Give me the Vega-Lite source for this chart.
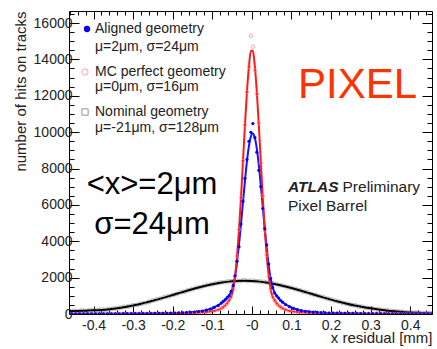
{
"$schema": "https://vega.github.io/schema/vega-lite/v6.json",
"width": 363, "height": 303,
"autosize": {"type": "none"},
"padding": {"left": 69, "top": 11, "right": 5, "bottom": 35},
"background": "white",
"datasets": {
"black_fit": [{"x":-0.46,"y":160},{"x":-0.44,"y":170},{"x":-0.42,"y":185},{"x":-0.40,"y":200},{"x":-0.38,"y":225},{"x":-0.36,"y":265},{"x":-0.34,"y":320},{"x":-0.32,"y":390},{"x":-0.30,"y":470},{"x":-0.28,"y":560},{"x":-0.26,"y":675},{"x":-0.24,"y":792},{"x":-0.22,"y":916},{"x":-0.20,"y":1045},{"x":-0.18,"y":1175},{"x":-0.16,"y":1304},{"x":-0.14,"y":1427},{"x":-0.12,"y":1539},{"x":-0.10,"y":1638},{"x":-0.08,"y":1719},{"x":-0.06,"y":1780},{"x":-0.04,"y":1817},{"x":-0.02,"y":1830},{"x":0,"y":1817},{"x":0.02,"y":1780},{"x":0.04,"y":1719},{"x":0.06,"y":1638},{"x":0.08,"y":1539},{"x":0.10,"y":1427},{"x":0.12,"y":1304},{"x":0.14,"y":1175},{"x":0.16,"y":1045},{"x":0.18,"y":916},{"x":0.20,"y":792},{"x":0.22,"y":675},{"x":0.24,"y":568},{"x":0.26,"y":472},{"x":0.28,"y":386},{"x":0.30,"y":311},{"x":0.32,"y":248},{"x":0.34,"y":194},{"x":0.36,"y":150},{"x":0.38,"y":115},{"x":0.40,"y":87},{"x":0.42,"y":64},{"x":0.44,"y":47},{"x":0.455,"y":38}],
"black_pts": [{"x":-0.45,"y":175},{"x":-0.44,"y":160},{"x":-0.43,"y":185},{"x":-0.42,"y":175},{"x":-0.41,"y":200},{"x":-0.40,"y":210},{"x":-0.39,"y":205},{"x":-0.38,"y":240},{"x":-0.37,"y":235},{"x":-0.36,"y":270},{"x":-0.35,"y":300},{"x":-0.34,"y":310},{"x":-0.33,"y":360},{"x":-0.32,"y":400},{"x":-0.31,"y":420},{"x":-0.30,"y":480},{"x":-0.29,"y":505},{"x":-0.28,"y":570},{"x":-0.27,"y":610},{"x":-0.26,"y":665},{"x":-0.25,"y":740},{"x":-0.24,"y":800},{"x":-0.23,"y":850},{"x":-0.22,"y":930},{"x":-0.21,"y":975},{"x":-0.20,"y":1050},{"x":-0.19,"y":1100},{"x":-0.18,"y":1190},{"x":-0.17,"y":1230},{"x":-0.16,"y":1310},{"x":-0.15,"y":1360},{"x":-0.14,"y":1440},{"x":-0.13,"y":1470},{"x":-0.12,"y":1550},{"x":-0.11,"y":1600},{"x":-0.10,"y":1630},{"x":-0.09,"y":1690},{"x":-0.08,"y":1730},{"x":-0.07,"y":1750},{"x":-0.06,"y":1790},{"x":-0.05,"y":1800},{"x":-0.04,"y":1830},{"x":-0.03,"y":1810},{"x":-0.02,"y":1850},{"x":-0.01,"y":1820},{"x":0,"y":1830},{"x":0.01,"y":1800},{"x":0.02,"y":1790},{"x":0.03,"y":1760},{"x":0.04,"y":1730},{"x":0.05,"y":1690},{"x":0.06,"y":1650},{"x":0.07,"y":1580},{"x":0.08,"y":1550},{"x":0.09,"y":1470},{"x":0.10,"y":1440},{"x":0.11,"y":1360},{"x":0.12,"y":1310},{"x":0.13,"y":1230},{"x":0.14,"y":1190},{"x":0.15,"y":1100},{"x":0.16,"y":1050},{"x":0.17,"y":980},{"x":0.18,"y":920},{"x":0.19,"y":850},{"x":0.20,"y":800},{"x":0.21,"y":730},{"x":0.22,"y":680},{"x":0.23,"y":610},{"x":0.24,"y":570},{"x":0.25,"y":510},{"x":0.26,"y":480},{"x":0.27,"y":420},{"x":0.28,"y":390},{"x":0.29,"y":340},{"x":0.30,"y":320},{"x":0.31,"y":275},{"x":0.32,"y":250},{"x":0.33,"y":215},{"x":0.34,"y":200},{"x":0.35,"y":170},{"x":0.36,"y":155},{"x":0.37,"y":130},{"x":0.38,"y":120},{"x":0.39,"y":100},{"x":0.40,"y":90},{"x":0.41,"y":75},{"x":0.42,"y":68},{"x":0.43,"y":55},{"x":0.44,"y":50},{"x":0.45,"y":42}],
"blue_fit": [{"x":-0.458,"y":8},{"x":-0.298,"y":20},{"x":-0.198,"y":50},{"x":-0.148,"y":110},{"x":-0.118,"y":200},{"x":-0.098,"y":340},{"x":-0.088,"y":440},{"x":-0.078,"y":580},{"x":-0.068,"y":760},{"x":-0.063,"y":880},{"x":-0.058,"y":1020},{"x":-0.053,"y":1200},{"x":-0.048,"y":1500},{"x":-0.043,"y":2000},{"x":-0.038,"y":2760},{"x":-0.033,"y":3720},{"x":-0.028,"y":4830},{"x":-0.023,"y":6020},{"x":-0.018,"y":7200},{"x":-0.013,"y":8290},{"x":-0.008,"y":9160},{"x":-0.003,"y":9720},{"x":0.002,"y":9920},{"x":0.007,"y":9720},{"x":0.012,"y":9160},{"x":0.017,"y":8290},{"x":0.022,"y":7200},{"x":0.027,"y":6020},{"x":0.032,"y":4830},{"x":0.037,"y":3720},{"x":0.042,"y":2760},{"x":0.047,"y":2000},{"x":0.052,"y":1500},{"x":0.057,"y":1200},{"x":0.062,"y":1020},{"x":0.067,"y":880},{"x":0.072,"y":760},{"x":0.082,"y":580},{"x":0.092,"y":440},{"x":0.102,"y":340},{"x":0.122,"y":200},{"x":0.152,"y":110},{"x":0.202,"y":50},{"x":0.302,"y":20},{"x":0.455,"y":8}],
"blue_pts": [{"x":-0.455,"y":8},{"x":-0.445,"y":9},{"x":-0.435,"y":7},{"x":-0.425,"y":10},{"x":-0.415,"y":9},{"x":-0.405,"y":11},{"x":-0.395,"y":10},{"x":-0.385,"y":12},{"x":-0.375,"y":11},{"x":-0.365,"y":13},{"x":-0.355,"y":14},{"x":-0.345,"y":13},{"x":-0.335,"y":16},{"x":-0.325,"y":17},{"x":-0.315,"y":18},{"x":-0.305,"y":19},{"x":-0.295,"y":21},{"x":-0.285,"y":22},{"x":-0.275,"y":25},{"x":-0.265,"y":26},{"x":-0.255,"y":29},{"x":-0.245,"y":31},{"x":-0.235,"y":35},{"x":-0.225,"y":38},{"x":-0.215,"y":42},{"x":-0.205,"y":47},{"x":-0.195,"y":52},{"x":-0.185,"y":60},{"x":-0.175,"y":68},{"x":-0.165,"y":80},{"x":-0.155,"y":95},{"x":-0.145,"y":112},{"x":-0.135,"y":135},{"x":-0.125,"y":165},{"x":-0.115,"y":210},{"x":-0.105,"y":270},{"x":-0.095,"y":360},{"x":-0.085,"y":470},{"x":-0.0775,"y":600},{"x":-0.0725,"y":700},{"x":-0.0675,"y":790},{"x":-0.0625,"y":900},{"x":-0.0575,"y":1010},{"x":-0.0525,"y":1250},{"x":-0.0475,"y":1560},{"x":-0.0425,"y":2100},{"x":-0.0375,"y":2900},{"x":-0.0325,"y":3700},{"x":-0.0275,"y":4950},{"x":-0.0225,"y":6200},{"x":-0.0175,"y":7450},{"x":-0.0125,"y":8500},{"x":-0.0075,"y":9500},{"x":-0.0025,"y":9990},{"x":0.0025,"y":10470},{"x":0.0075,"y":9700},{"x":0.0125,"y":8900},{"x":0.0175,"y":7900},{"x":0.0225,"y":7000},{"x":0.0275,"y":5800},{"x":0.0325,"y":4700},{"x":0.0375,"y":3800},{"x":0.0425,"y":2750},{"x":0.0475,"y":1950},{"x":0.0525,"y":1450},{"x":0.0575,"y":1150},{"x":0.0625,"y":1000},{"x":0.0675,"y":880},{"x":0.0725,"y":740},{"x":0.0775,"y":650},{"x":0.085,"y":520},{"x":0.095,"y":400},{"x":0.105,"y":310},{"x":0.115,"y":240},{"x":0.125,"y":185},{"x":0.135,"y":150},{"x":0.145,"y":120},{"x":0.155,"y":100},{"x":0.165,"y":85},{"x":0.175,"y":72},{"x":0.185,"y":63},{"x":0.195,"y":55},{"x":0.205,"y":49},{"x":0.215,"y":44},{"x":0.225,"y":40},{"x":0.235,"y":36},{"x":0.245,"y":33},{"x":0.255,"y":30},{"x":0.265,"y":28},{"x":0.275,"y":25},{"x":0.285,"y":23},{"x":0.295,"y":21},{"x":0.305,"y":19},{"x":0.315,"y":18},{"x":0.325,"y":17},{"x":0.335,"y":15},{"x":0.345,"y":14},{"x":0.355,"y":13},{"x":0.365,"y":12},{"x":0.375,"y":12},{"x":0.385,"y":11},{"x":0.395,"y":10},{"x":0.405,"y":10},{"x":0.415,"y":9},{"x":0.425,"y":9},{"x":0.435,"y":8},{"x":0.445,"y":8},{"x":0.455,"y":7}],
"red_fit": [{"x":-0.46,"y":5},{"x":-0.4,"y":6},{"x":-0.3,"y":10},{"x":-0.2,"y":25},{"x":-0.15,"y":50},{"x":-0.12,"y":90},{"x":-0.1,"y":150},{"x":-0.09,"y":200},{"x":-0.08,"y":280},{"x":-0.07,"y":420},{"x":-0.0625,"y":580},{"x":-0.0575,"y":750},{"x":-0.0525,"y":950},{"x":-0.0475,"y":1350},{"x":-0.0425,"y":2100},{"x":-0.0375,"y":3200},{"x":-0.0325,"y":4650},{"x":-0.0275,"y":6400},{"x":-0.0225,"y":8400},{"x":-0.0175,"y":10400},{"x":-0.0125,"y":12200},{"x":-0.0075,"y":13600},{"x":-0.0025,"y":14470},{"x":0.0025,"y":14470},{"x":0.0075,"y":13600},{"x":0.0125,"y":12200},{"x":0.0175,"y":10400},{"x":0.0225,"y":8400},{"x":0.0275,"y":6400},{"x":0.0325,"y":4650},{"x":0.0375,"y":3200},{"x":0.0425,"y":2100},{"x":0.0475,"y":1350},{"x":0.0525,"y":950},{"x":0.0575,"y":750},{"x":0.0625,"y":580},{"x":0.07,"y":420},{"x":0.08,"y":280},{"x":0.09,"y":200},{"x":0.1,"y":150},{"x":0.12,"y":90},{"x":0.15,"y":50},{"x":0.2,"y":25},{"x":0.3,"y":10},{"x":0.4,"y":6},{"x":0.455,"y":5}],
"red_pts": [{"x":-0.455,"y":5},{"x":-0.445,"y":5},{"x":-0.435,"y":6},{"x":-0.425,"y":5},{"x":-0.415,"y":6},{"x":-0.405,"y":6},{"x":-0.395,"y":7},{"x":-0.385,"y":6},{"x":-0.375,"y":7},{"x":-0.365,"y":8},{"x":-0.355,"y":7},{"x":-0.345,"y":8},{"x":-0.335,"y":9},{"x":-0.325,"y":9},{"x":-0.315,"y":10},{"x":-0.305,"y":10},{"x":-0.295,"y":11},{"x":-0.285,"y":12},{"x":-0.275,"y":13},{"x":-0.265,"y":14},{"x":-0.255,"y":15},{"x":-0.245,"y":17},{"x":-0.235,"y":18},{"x":-0.225,"y":20},{"x":-0.215,"y":22},{"x":-0.205,"y":24},{"x":-0.195,"y":27},{"x":-0.185,"y":30},{"x":-0.175,"y":35},{"x":-0.165,"y":40},{"x":-0.155,"y":48},{"x":-0.145,"y":58},{"x":-0.135,"y":70},{"x":-0.125,"y":85},{"x":-0.115,"y":110},{"x":-0.105,"y":140},{"x":-0.095,"y":180},{"x":-0.085,"y":240},{"x":-0.0775,"y":300},{"x":-0.0725,"y":380},{"x":-0.0675,"y":480},{"x":-0.0625,"y":580},{"x":-0.0575,"y":750},{"x":-0.0525,"y":950},{"x":-0.0475,"y":1350},{"x":-0.0425,"y":2100},{"x":-0.0375,"y":3200},{"x":-0.0325,"y":4650},{"x":-0.0275,"y":6400},{"x":-0.0225,"y":8400},{"x":-0.0175,"y":10400},{"x":-0.0125,"y":12200},{"x":-0.0075,"y":13600},{"x":-0.0025,"y":15300},{"x":0.0025,"y":14700},{"x":0.0075,"y":13400},{"x":0.0125,"y":12100},{"x":0.0175,"y":10500},{"x":0.0225,"y":8300},{"x":0.0275,"y":6500},{"x":0.0325,"y":4600},{"x":0.0375,"y":3250},{"x":0.0425,"y":2050},{"x":0.0475,"y":1380},{"x":0.0525,"y":930},{"x":0.0575,"y":760},{"x":0.0625,"y":570},{"x":0.0675,"y":470},{"x":0.0725,"y":390},{"x":0.0775,"y":310},{"x":0.085,"y":240},{"x":0.095,"y":180},{"x":0.105,"y":140},{"x":0.115,"y":110},{"x":0.125,"y":85},{"x":0.135,"y":70},{"x":0.145,"y":58},{"x":0.155,"y":48},{"x":0.165,"y":40},{"x":0.175,"y":35},{"x":0.185,"y":30},{"x":0.195,"y":27},{"x":0.205,"y":24},{"x":0.215,"y":22},{"x":0.225,"y":20},{"x":0.235,"y":18},{"x":0.245,"y":17},{"x":0.255,"y":15},{"x":0.265,"y":14},{"x":0.275,"y":13},{"x":0.285,"y":12},{"x":0.295,"y":11},{"x":0.305,"y":10},{"x":0.315,"y":10},{"x":0.325,"y":9},{"x":0.335,"y":9},{"x":0.345,"y":8},{"x":0.355,"y":7},{"x":0.365,"y":8},{"x":0.375,"y":7},{"x":0.385,"y":6},{"x":0.395,"y":7},{"x":0.405,"y":6},{"x":0.415,"y":6},{"x":0.425,"y":5},{"x":0.435,"y":6},{"x":0.445,"y":5},{"x":0.455,"y":5}]
},
"encoding": {
"x": {"field": "x", "type": "quantitative", "scale": {"domain": [-0.462, 0.455], "nice": false, "zero": false}, "axis": null},
"y": {"field": "y", "type": "quantitative", "scale": {"domain": [0, 16660], "nice": false, "zero": false}, "axis": null}
},
"layer": [
{"data": {"name": "black_pts"}, "mark": {"type": "point", "shape": "square", "filled": false, "stroke": "#8a8a8a", "strokeWidth": 0.8, "size": 12, "clip": true},
 "encoding": {
  "x": {"field": "x", "type": "quantitative", "scale": {"domain": [-0.462, 0.455], "nice": false, "zero": false},
   "axis": {"orient": "top", "values": [-0.46,-0.44,-0.42,-0.4,-0.38,-0.36,-0.34,-0.32,-0.3,-0.28,-0.26,-0.24,-0.22,-0.2,-0.18,-0.16,-0.14,-0.12,-0.1,-0.08,-0.06,-0.04,-0.02,0,0.02,0.04,0.06,0.08,0.1,0.12,0.14,0.16,0.18,0.2,0.22,0.24,0.26,0.28,0.3,0.32,0.34,0.36,0.38,0.4,0.42,0.44],
    "labels": false, "domain": false, "grid": false, "title": null, "tickColor": "#000",
    "tickSize": {"condition": {"test": "abs(datum.value*10-round(datum.value*10))<0.001", "value": -8}, "value": -4}}},
  "y": {"field": "y", "type": "quantitative", "scale": {"domain": [0, 16660], "nice": false, "zero": false},
   "axis": {"orient": "right", "values": [0,500,1000,1500,2000,2500,3000,3500,4000,4500,5000,5500,6000,6500,7000,7500,8000,8500,9000,9500,10000,10500,11000,11500,12000,12500,13000,13500,14000,14500,15000,15500,16000,16500],
    "labels": false, "domain": false, "grid": false, "title": null, "tickColor": "#000",
    "tickSize": {"condition": {"test": "datum.value % 2000 === 0", "value": -10}, "value": -5}}}
 }},
{"data": {"name": "black_fit"}, "mark": {"type": "line", "color": "#000000", "strokeWidth": 2, "interpolate": "monotone", "clip": true},
 "encoding": {
  "x": {"field": "x", "type": "quantitative", "scale": {"domain": [-0.462, 0.455], "nice": false, "zero": false},
   "axis": {"orient": "bottom", "values": [-0.46,-0.44,-0.42,-0.4,-0.38,-0.36,-0.34,-0.32,-0.3,-0.28,-0.26,-0.24,-0.22,-0.2,-0.18,-0.16,-0.14,-0.12,-0.1,-0.08,-0.06,-0.04,-0.02,0,0.02,0.04,0.06,0.08,0.1,0.12,0.14,0.16,0.18,0.2,0.22,0.24,0.26,0.28,0.3,0.32,0.34,0.36,0.38,0.4,0.42,0.44],
    "labelExpr": "abs(datum.value*10-round(datum.value*10))<0.001 ? (abs(datum.value)<0.001 ? '-0' : (datum.value<0 ? '-' : '') + format(abs(datum.value), '.1f')) : ''",
    "labelOverlap": false, "labelFlush": false, "labelFont": "Liberation Sans", "labelFontSize": 14, "labelColor": "#222222", "labelPadding": 12,
    "domain": false, "grid": false, "tickColor": "#000",
    "tickSize": {"condition": {"test": "abs(datum.value*10-round(datum.value*10))<0.001", "value": -8}, "value": -4},
    "title": "x residual [mm]", "titleFont": "Liberation Sans", "titleFontSize": 15, "titleFontWeight": "normal", "titleColor": "#222222", "titleAnchor": "end", "titlePadding": -6}},
  "y": {"field": "y", "type": "quantitative", "scale": {"domain": [0, 16660], "nice": false, "zero": false},
   "axis": {"orient": "left", "values": [0,500,1000,1500,2000,2500,3000,3500,4000,4500,5000,5500,6000,6500,7000,7500,8000,8500,9000,9500,10000,10500,11000,11500,12000,12500,13000,13500,14000,14500,15000,15500,16000,16500],
    "labelExpr": "datum.value % 2000 === 0 ? format(datum.value, 'd') : ''",
    "labelOverlap": false, "labelFlush": false, "labelFont": "Liberation Sans", "labelFontSize": 14, "labelColor": "#222222", "labelPadding": 7,
    "domain": false, "grid": false, "tickColor": "#000",
    "tickSize": {"condition": {"test": "datum.value % 2000 === 0", "value": -10}, "value": -5},
    "title": "number of hits on tracks", "titleFont": "Liberation Sans", "titleFontSize": 15, "titleFontWeight": "normal", "titleColor": "#222222", "titleAnchor": "end", "titlePadding": 5}}
 }},
{"data": {"name": "blue_fit"}, "mark": {"type": "line", "color": "#1414ff", "strokeWidth": 2, "interpolate": "monotone", "clip": true}},
{"data": {"name": "red_fit"}, "mark": {"type": "line", "color": "#ff1a1a", "strokeWidth": 2, "interpolate": "monotone", "clip": true}},
{"data": {"name": "red_pts"}, "mark": {"type": "point", "shape": "circle", "filled": false, "stroke": "#ff8080", "strokeWidth": 1, "size": 12, "clip": true}},
{"data": {"name": "blue_pts"}, "mark": {"type": "point", "shape": "circle", "filled": true, "color": "#0000ff", "opacity": 1, "size": 10, "clip": true}},
{"data": {"values": [{"x": -0.4165, "y": 15670}]}, "mark": {"type": "point", "shape": "circle", "filled": true, "color": "#0000ff", "opacity": 1, "size": 40}},
{"data": {"values": [{"x": -0.4216, "y": 13305}]}, "mark": {"type": "point", "shape": "circle", "filled": false, "stroke": "#ff8080", "strokeWidth": 1, "size": 40}},
{"data": {"values": [{"x": -0.4216, "y": 11106}]}, "mark": {"type": "point", "shape": "square", "filled": false, "stroke": "#666666", "strokeWidth": 1, "size": 40}},
{"data": {"values": [{"x": -0.3963, "y": 15670, "t": "Aligned geometry"}, {"x": -0.3963, "y": 14680, "t": "μ=2μm, σ=24μm"}, {"x": -0.3963, "y": 13305, "t": "MC perfect geometry"}, {"x": -0.3963, "y": 12480, "t": "μ=0μm, σ=16μm"}, {"x": -0.3963, "y": 11106, "t": "Nominal geometry"}, {"x": -0.3963, "y": 10226, "t": "μ=-21μm, σ=128μm"}]},
 "mark": {"type": "text", "align": "left", "baseline": "middle", "font": "Liberation Sans", "fontSize": 14, "color": "#222222"},
 "encoding": {"text": {"field": "t"}}},
{"data": {"values": [{"x": 0.1165, "y": 12590, "t": "PIXEL"}]},
 "mark": {"type": "text", "align": "left", "baseline": "middle", "font": "Liberation Sans", "fontSize": 42, "color": "#ff3300"},
 "encoding": {"text": {"field": "t"}}},
{"data": {"values": [{"x": -0.2523, "y": 7092, "t": "<x>=2μm"}, {"x": -0.2523, "y": 4893, "t": "σ=24μm"}]},
 "mark": {"type": "text", "align": "center", "baseline": "middle", "font": "Liberation Sans", "fontSize": 31, "color": "#000000"},
 "encoding": {"text": {"field": "t"}}},
{"data": {"values": [{"x": 0.0912, "y": 6982, "t": "ATLAS"}]},
 "mark": {"type": "text", "align": "left", "baseline": "middle", "font": "Liberation Sans", "fontSize": 15.5, "fontWeight": "bold", "fontStyle": "italic", "color": "#222222"},
 "encoding": {"text": {"field": "t"}}},
{"data": {"values": [{"x": 0.229, "y": 6982, "t": "Preliminary"}, {"x": 0.0912, "y": 5938, "t": "Pixel Barrel"}]},
 "mark": {"type": "text", "align": "left", "baseline": "middle", "font": "Liberation Sans", "fontSize": 15.5, "color": "#222222"},
 "encoding": {"text": {"field": "t"}}}
],
"resolve": {"axis": {"x": "independent", "y": "independent"}},
"config": {"view": {"stroke": "#000000", "strokeWidth": 1}}
}
